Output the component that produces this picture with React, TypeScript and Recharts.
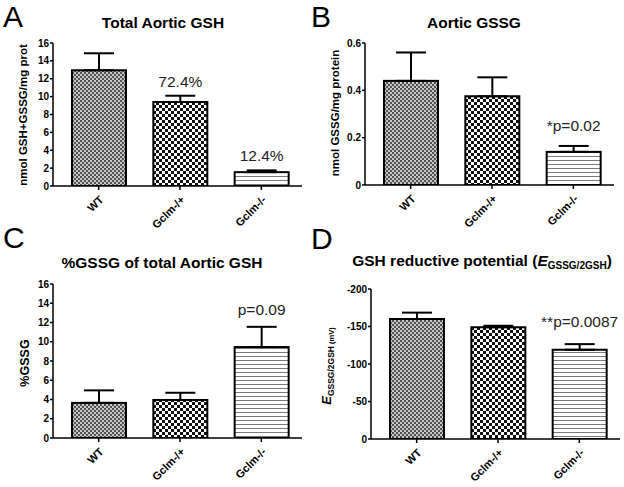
import React from 'react';
import { BarChart, Bar, XAxis, YAxis, ErrorBar } from 'recharts';

const FONT = '"Liberation Sans", Arial, sans-serif';

// groups on the x axis (same in every panel)
const groups = ['WT', 'Gclm-/+', 'Gclm-/-'];

// A: total aortic GSH (nmol GSH+GSSG / mg prot)
const totalGsh = [12.95, 9.4, 1.55];
const totalGshSem = [1.9, 0.7, 0.2];
const totalGshNotes = ['', '72.4%', '12.4%'];
const totalGshTicks = [0, 2, 4, 6, 8, 10, 12, 14, 16];

// B: aortic GSSG (nmol / mg protein)
const gssg = [0.44, 0.375, 0.14];
const gssgSem = [0.12, 0.08, 0.025];
const gssgNotes = ['', '', '*p=0.02'];
const gssgTicks = [0, 0.2, 0.4, 0.6];

// C: %GSSG of total GSH
const pctGssg = [3.65, 3.95, 9.45];
const pctGssgSem = [1.3, 0.75, 2.1];
const pctGssgNotes = ['', '', 'p=0.09'];
const pctGssgTicks = [0, 2, 4, 6, 8, 10, 12, 14, 16];

// D: GSH reductive potential (mV)
const potential = [-160, -149, -119];
const potentialSem = [8.5, 2, 7.5];
const potentialNotes = ['', '', '**p=0.0087'];
const potentialTicks = [0, -50, -100, -150, -200];

const patternIds = ['patWT', 'patHet', 'patKO'];

function Patterns() {
  return (
    <svg width={0} height={0} style={{ position: 'absolute' }}>
      <defs>
        <pattern id="patWT" width={4} height={4} patternUnits="userSpaceOnUse">
          <rect width={4} height={4} fill="#c8c8c8" />
          <rect x={0} y={0} width={2} height={2} fill="#505050" />
          <rect x={2} y={2} width={2} height={2} fill="#505050" />
        </pattern>
        <pattern id="patHet" width={6} height={6} patternUnits="userSpaceOnUse">
          <rect width={6} height={6} fill="#ffffff" />
          <rect x={0} y={0} width={3} height={3} fill="#111" />
          <rect x={3} y={3} width={3} height={3} fill="#111" />
        </pattern>
        <pattern id="patKO" width={4} height={4} patternUnits="userSpaceOnUse">
          <rect width={4} height={4} fill="#ffffff" />
          <rect x={0} y={0} width={4} height={1} fill="#7a7a7a" />
        </pattern>
      </defs>
    </svg>
  );
}

interface PanelProps {
  values: number[];
  sems: number[];
  notes: string[];
  ticks: number[];
  domain: [number, number];
  reversed?: boolean;
  left: number;
  top: number;
  height: number;
  margin: { top: number; right: number; bottom: number; left: number };
  noteGap: number;
}

function Panel({
  values,
  sems,
  notes,
  ticks,
  domain,
  reversed = false,
  left,
  top,
  height,
  margin,
  noteGap,
}: PanelProps) {
  const data = groups.map((g, i) => ({
    name: g,
    value: values[i],
    sem: sems[i],
    // error whisker only on the side away from zero
    err: values[i] < 0 ? [sems[i], 0] : [0, sems[i]],
    note: notes[i],
  }));

  const shape = (props: any) => {
    const { x, y, width, height: h, index, payload } = props;
    const yTop = Math.min(y, y + h);
    const hh = Math.abs(h);
    const pxPerUnit = hh / Math.abs(payload.value);
    const errTop = yTop - payload.sem * pxPerUnit;
    return (
      <g>
        <rect
          x={x}
          y={yTop}
          width={width}
          height={hh}
          fill={`url(#${patternIds[index]})`}
          stroke="#000"
          strokeWidth={2}
        />
        {payload.note ? (
          <text
            x={x + width / 2}
            y={errTop - noteGap}
            textAnchor="middle"
            fontSize={15.5}
            fontFamily={FONT}
            fill="#222"
          >
            {payload.note}
          </text>
        ) : null}
      </g>
    );
  };

  return (
    <div style={{ position: 'absolute', left, top }}>
      <BarChart width={312} height={height} data={data} margin={margin}>
        <XAxis
          dataKey="name"
          height={30}
          padding={{ left: 5, right: 0 }}
          axisLine={{ stroke: '#000', strokeWidth: 1.5 }}
          tickLine={{ stroke: '#000', strokeWidth: 1.5 }}
          tickSize={4}
          tickMargin={5}
          angle={-45}
          textAnchor="end"
          interval={0}
          fontSize={11}
          tick={{ fontSize: 11, fontWeight: 'bold', fill: '#000', fontFamily: FONT }}
        />
        <YAxis
          width={30}
          domain={domain}
          ticks={ticks}
          reversed={reversed}
          allowDataOverflow
          interval={0}
          axisLine={{ stroke: '#000', strokeWidth: 1.5 }}
          tickLine={{ stroke: '#000', strokeWidth: 1.5 }}
          tickSize={3}
          tickMargin={1}
          fontSize={10}
          tick={{ fontSize: 10, fontWeight: 'bold', fill: '#000', fontFamily: FONT }}
        />
        <Bar dataKey="value" barSize={54} shape={shape} isAnimationActive={false}>
          <ErrorBar dataKey="err" width={15} stroke="#000" strokeWidth={2} direction="y" />
        </Bar>
      </BarChart>
    </div>
  );
}

function Overlay() {
  const letter = { fontSize: 30, fontFamily: FONT, fill: '#000' };
  const title = { fontSize: 15.5, fontWeight: 'bold' as const, fontFamily: FONT, fill: '#000' };
  const ylab = { fontWeight: 'bold' as const, fontFamily: FONT, fill: '#000' };
  return (
    <svg
      width={624}
      height={487}
      style={{ position: 'absolute', left: 0, top: 0, pointerEvents: 'none' }}
    >
      <text x={3} y={27} {...letter}>A</text>
      <text x={311} y={27} {...letter}>B</text>
      <text x={3} y={248} {...letter}>C</text>
      <text x={311} y={249} {...letter}>D</text>

      <text x={163} y={28} textAnchor="middle" {...title}>Total Aortic GSH</text>
      <text x={474} y={28} textAnchor="middle" {...title}>Aortic GSSG</text>
      <text x={162} y={268} textAnchor="middle" {...title}>%GSSG of total Aortic GSH</text>
      <text x={482} y={266} textAnchor="middle" {...title}>
        GSH reductive potential (
        <tspan fontStyle="italic">E</tspan>
        <tspan fontSize={10} dy={3}>GSSG/2GSH</tspan>
        <tspan dy={-3}>)</tspan>
      </text>

      <text transform="translate(27,115) rotate(-90)" textAnchor="middle" fontSize={11.5} {...ylab}>
        nmol GSH+GSSG/mg prot
      </text>
      <text transform="translate(339,113) rotate(-90)" textAnchor="middle" fontSize={11.5} {...ylab}>
        nmol  GSSG/mg protein
      </text>
      <text transform="translate(29,363) rotate(-90)" textAnchor="middle" fontSize={12.5} {...ylab}>
        %GSSG
      </text>
      <text transform="translate(331,366) rotate(-90)" textAnchor="middle" fontSize={13} {...ylab}>
        <tspan fontStyle="italic">E</tspan>
        <tspan fontSize={8.5} dy={3}>GSSG/2GSH</tspan>
        <tspan fontSize={7.5}> (mV)</tspan>
      </text>
    </svg>
  );
}

export default function App() {
  return (
    <div
      style={{
        position: 'absolute',
        left: 0,
        top: 0,
        width: 624,
        height: 487,
        background: '#fff',
        fontFamily: FONT,
      }}
    >
      <Patterns />
      <Panel
        values={totalGsh}
        sems={totalGshSem}
        notes={totalGshNotes}
        ticks={totalGshTicks}
        domain={[0, 16]}
        left={0}
        top={0}
        height={240}
        margin={{ top: 43, right: 10, bottom: 24, left: 23 }}
        noteGap={9}
      />
      <Panel
        values={gssg}
        sems={gssgSem}
        notes={gssgNotes}
        ticks={gssgTicks}
        domain={[0, 0.6]}
        left={312}
        top={0}
        height={240}
        margin={{ top: 43, right: 10, bottom: 25, left: 23 }}
        noteGap={15}
      />
      <Panel
        values={pctGssg}
        sems={pctGssgSem}
        notes={pctGssgNotes}
        ticks={pctGssgTicks}
        domain={[0, 16]}
        left={0}
        top={240}
        height={247}
        margin={{ top: 44, right: 10, bottom: 19, left: 23 }}
        noteGap={12}
      />
      <Panel
        values={potential}
        sems={potentialSem}
        notes={potentialNotes}
        ticks={potentialTicks}
        domain={[-200, 0]}
        reversed
        left={312}
        top={240}
        height={247}
        margin={{ top: 49, right: 4, bottom: 18, left: 29 }}
        noteGap={17}
      />
      <Overlay />
    </div>
  );
}
